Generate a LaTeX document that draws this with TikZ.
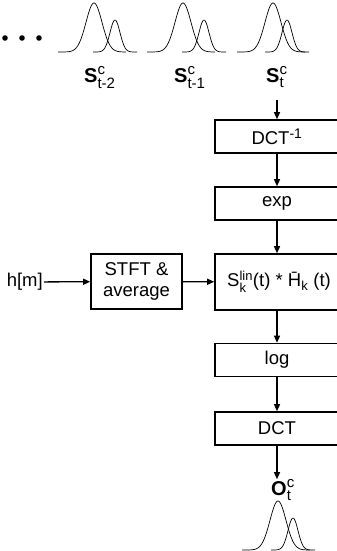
\documentclass[tikz,border=0pt]{standalone}
\usepackage{amsmath}
\usepackage{fontspec}
\setmainfont{Liberation Sans}
\usetikzlibrary{arrows.meta}

% raised and lowered script on one letter, optional size
\newcommand{\supsub}[3][]{$^{\text{#1#2}}_{\text{#1#3}}$}
\newcommand{\lblscr}{\fontsize{15}{15}\selectfont}
% two overlapping bumps: left end, baseline, shift of the small one
\newcommand{\gpair}[3]{%
  \draw[curve] plot[domain=0:68,samples=70]
      ({#1+\x},{#2-49*exp(-((\x-36)*(\x-36))/128)});
  \draw[curve] plot[domain=-22:22,samples=50]
      ({#1+36+#3+\x},{#2-32*exp(-(\x*\x)/50)});
}

\begin{document}
\begin{tikzpicture}[x=1pt,y=-1pt,
    font=\fontsize{18.5}{21}\selectfont,
    box/.style={draw,line width=1.6pt,minimum width=124pt,
                minimum height=33pt,inner sep=0pt,align=center},
    arr/.style={line width=1.3pt,-{Triangle[length=7pt,width=6pt]}},
    curve/.style={line width=0.7pt},
    lbl/.style={inner sep=0pt,anchor=base west,
                font=\fontsize{20}{22}\selectfont}]
\clip (0,0) rectangle (337,551);

% frames at t-2, t-1, t
\fill (5,38) circle (2.8) (22,38) circle (2.8) (39,38) circle (2.8);
\gpair{58}{52}{21}
\gpair{147}{52}{21}
\gpair{237}{52}{14}
\node[lbl] (s2) at ( 84,82) {\textbf{S}\supsub[\lblscr]{c}{t-2}};
\node[lbl] (s1) at (174,82) {\textbf{S}\supsub[\lblscr]{c}{t-1}};
\node[lbl] (s0) at (266,82) {\textbf{S}\supsub[\lblscr]{c}{t}};

% chain
\node[box] (idct) at (277,136.5)
    {DCT\textsuperscript{\fontsize{14}{14}\selectfont -1}};
\node[box] (exp)  at (277,203.5) {exp};
\node[box,minimum height=56pt] (mult) at (277,282)
    {\hspace*{4pt}S\supsub{lin}{k}(t) * \=H\textsubscript{k} (t)};
\node[box] (log)  at (277,360)   {log};
\node[box] (dct)  at (277,428.5) {DCT};
\node[box,minimum width=91pt,minimum height=55pt] (stft) at (136.5,281.5)
    {STFT \&\\average};
\node[inner sep=1pt,anchor=east] (h) at (44,282) {h[m]};
\node[lbl] (ot) at (271,495) {\textbf{O}\supsub[\lblscr]{c}{t}};
\gpair{242}{550}{15}

\draw[arr,shorten <=12pt] (idct.north |- s0.south) -- (idct);
\draw[arr] (idct) -- (exp);
\draw[arr] (exp)  -- (mult);
\draw[arr] (mult) -- (log);
\draw[arr] (log)  -- (dct);
\draw[arr] (dct)  -- (dct.south |- ot.north);
\draw[arr] (h)    -- (stft);
\draw[arr] (stft) -- (mult);
\end{tikzpicture}
\end{document}
